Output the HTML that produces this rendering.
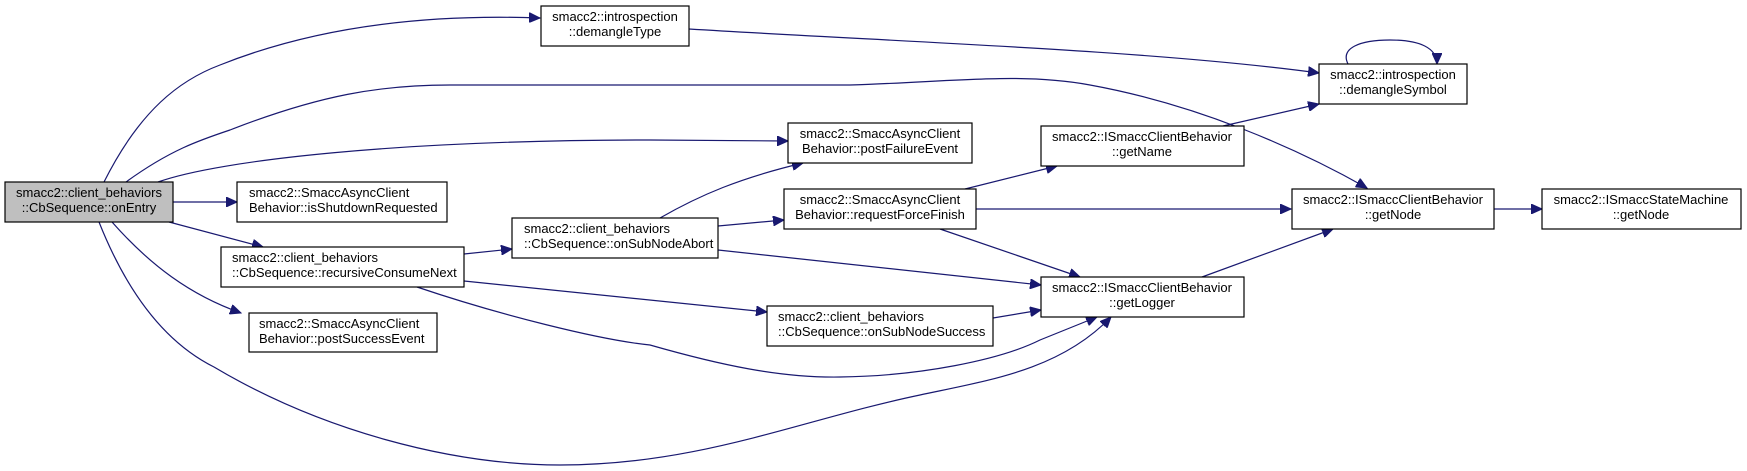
<!DOCTYPE html>
<html><head><meta charset="utf-8"><style>
html,body{margin:0;padding:0;background:#fff;}
svg{display:block;}
text{font-family:"Liberation Sans",Arial,sans-serif;font-size:13px;fill:#000;}
.n{fill:#fff;stroke:#000;stroke-width:1.2;}
.e{fill:none;stroke:#191970;stroke-width:1.2;}
</style></head><body>
<svg width="1747" height="471" viewBox="0 0 1747 471" xmlns="http://www.w3.org/2000/svg">
<defs>
<marker id="a" markerUnits="userSpaceOnUse" markerWidth="12" markerHeight="10" refX="11" refY="5" orient="auto">
<path d="M0,0 L11,5 L0,10 Z" fill="#191970" stroke="#191970"/>
</marker>
</defs>
<!-- edges -->
<g class="e" marker-end="url(#a)">
<path d="M104,182 C140,110 180,80 220,65 C320,25 430,14 540,18"/>
<path d="M126,182 C170,150 200,140 230,130 C320,95 380,85 450,85 L850,85 C950,82 1020,72 1090,85 C1200,105 1300,150 1367,188"/>
<path d="M158,182 C220,160 400,140 650,140 L788,141"/>
<path d="M173,202 L237,202"/>
<path d="M169,222 L263,247"/>
<path d="M112,222 C150,265 190,295 241,313"/>
<path d="M99,222 C130,300 170,345 214,367 C320,430 450,465 560,465 C700,465 800,420 920,395 C990,380 1060,370 1111,317"/>
<path d="M689,29 C900,42 1150,50 1319,73"/>
<path d="M1348,64 C1340,48 1360,40 1390,40 C1420,40 1437,48 1437,64"/>
<path d="M1223,126 L1319,104"/>
<path d="M660,218 C700,195 740,178 803,163"/>
<path d="M718,226 L784,220"/>
<path d="M718,250 L1041,285"/>
<path d="M464,254 L512,249"/>
<path d="M464,281 L767,312"/>
<path d="M417,287 C500,315 600,340 650,345 C720,365 780,378 840,377 C920,376 1000,360 1040,340 L1097,317"/>
<path d="M965,189 L1057,166"/>
<path d="M976,209 L1291,209"/>
<path d="M940,229 L1080,277"/>
<path d="M993,318 L1041,310"/>
<path d="M1202,277 L1333,229"/>
<path d="M1494,209 L1542,209"/>
</g>
<!-- nodes -->
<rect x="5" y="182" width="168" height="40" fill="#bfbfbf" stroke="#000" stroke-width="1.2"/>
<text x="89" y="197" text-anchor="middle">smacc2::client_behaviors</text>
<text x="89" y="212" text-anchor="middle">::CbSequence::onEntry</text>

<rect class="n" x="541" y="6" width="148" height="40"/>
<text x="615" y="21" text-anchor="middle">smacc2::introspection</text>
<text x="615" y="36" text-anchor="middle">::demangleType</text>

<rect class="n" x="1319" y="64" width="148" height="40"/>
<text x="1393" y="79" text-anchor="middle">smacc2::introspection</text>
<text x="1393" y="94" text-anchor="middle">::demangleSymbol</text>

<rect class="n" x="788" y="123" width="184" height="40"/>
<text x="880" y="138" text-anchor="middle">smacc2::SmaccAsyncClient</text>
<text x="880" y="153" text-anchor="middle">Behavior::postFailureEvent</text>

<rect class="n" x="237" y="182" width="210" height="40"/>
<text x="249" y="197">smacc2::SmaccAsyncClient</text>
<text x="249" y="212">Behavior::isShutdownRequested</text>

<rect class="n" x="1041" y="126" width="203" height="40"/>
<text x="1142" y="141" text-anchor="middle">smacc2::ISmaccClientBehavior</text>
<text x="1142" y="156" text-anchor="middle">::getName</text>

<rect class="n" x="784" y="189" width="192" height="40"/>
<text x="880" y="204" text-anchor="middle">smacc2::SmaccAsyncClient</text>
<text x="880" y="219" text-anchor="middle">Behavior::requestForceFinish</text>

<rect class="n" x="512" y="218" width="206" height="40"/>
<text x="524" y="233">smacc2::client_behaviors</text>
<text x="524" y="248">::CbSequence::onSubNodeAbort</text>

<rect class="n" x="1292" y="189" width="202" height="40"/>
<text x="1393" y="204" text-anchor="middle">smacc2::ISmaccClientBehavior</text>
<text x="1393" y="219" text-anchor="middle">::getNode</text>

<rect class="n" x="1542" y="189" width="199" height="40"/>
<text x="1641" y="204" text-anchor="middle">smacc2::ISmaccStateMachine</text>
<text x="1641" y="219" text-anchor="middle">::getNode</text>

<rect class="n" x="221" y="247" width="243" height="40"/>
<text x="232" y="262">smacc2::client_behaviors</text>
<text x="232" y="277">::CbSequence::recursiveConsumeNext</text>

<rect class="n" x="1041" y="277" width="203" height="40"/>
<text x="1142" y="292" text-anchor="middle">smacc2::ISmaccClientBehavior</text>
<text x="1142" y="307" text-anchor="middle">::getLogger</text>

<rect class="n" x="767" y="306" width="226" height="40"/>
<text x="778" y="321">smacc2::client_behaviors</text>
<text x="778" y="336">::CbSequence::onSubNodeSuccess</text>

<rect class="n" x="249" y="313" width="188" height="39"/>
<text x="259" y="328">smacc2::SmaccAsyncClient</text>
<text x="259" y="343">Behavior::postSuccessEvent</text>
</svg>
</body></html>
